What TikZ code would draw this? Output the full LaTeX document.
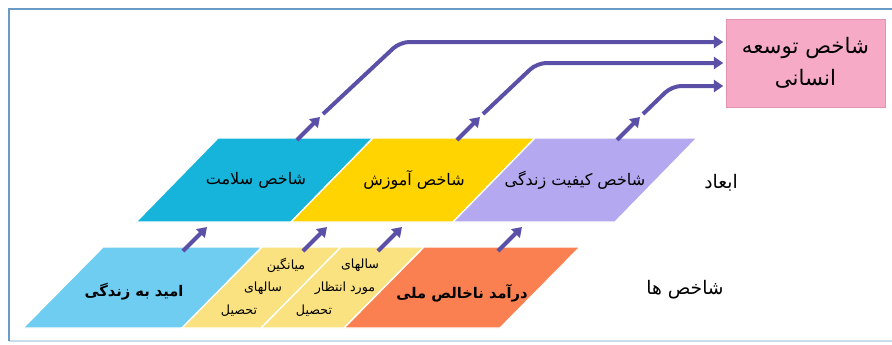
\documentclass[tikz,border=0pt]{standalone}
\usepackage{fontspec}
\newfontfamily\fa[Script=Arabic]{DejaVu Sans}
\TeXXeTstate=1
\usetikzlibrary{arrows.meta}
\definecolor{salamat}{RGB}{22,180,218}
\definecolor{amuzesh}{RGB}{255,212,0}
\definecolor{keyfiat}{RGB}{180,168,240}
\definecolor{omid}{RGB}{112,205,242}
\definecolor{zard}{RGB}{250,226,128}
\definecolor{daramad}{RGB}{250,128,82}
\definecolor{soorati}{RGB}{246,170,198}
\definecolor{sooratib}{RGB}{228,146,178}
\definecolor{arrc}{RGB}{90,80,168}
\definecolor{framec}{RGB}{106,155,198}
\definecolor{framelt}{RGB}{200,220,235}
\begin{document}
\begin{tikzpicture}[x=.75pt, y=-.75pt, >={Triangle[length=7pt,width=9pt]},
  arr/.style={->, line width=3pt, draw=arrc},
  txt/.style={font={\fa\fontsize{12}{14}\selectfont}, inner sep=0pt},
  btxt/.style={font={\fa\bfseries\fontsize{11}{13}\selectfont}, inner sep=0pt},
  stxt/.style={font={\fa\fontsize{9.5}{11}\selectfont}, inner sep=0pt},
  ltxt/.style={font={\fa\fontsize{14}{16}\selectfont}, inner sep=0pt}]
 \useasboundingbox (0,0) rectangle (892,344);
 % frame
 \draw[framelt, line width=1pt](9,341)--(892,341);
 \draw[framec, line width=1.5pt](892,9)--(9,9)--(9,341);
 % abad
 \foreach \l/\r/\c in {218/373/salamat, 373/535/amuzesh, 535/697/keyfiat}
 {
     \fill[\c, draw=white, line width=1pt](\l,138)--(\r,138)--(\r-82,222)--(\l-82,222)--cycle;
 }
 % shakhes ha
 \foreach \l/\r/\c in {103/262/omid, 262/341/zard, 341/424/zard, 424/580/daramad}
 {
     \fill[\c, draw=white, line width=1pt](\l,247)--(\r,247)--(\r-80,328)--(\l-80,328)--cycle;
 }
 \node[txt] (salamat) at (256,180) {\beginR شاخص سلامت\endR};
 \node[txt] (amuzesh) at (414,180) {\beginR شاخص آموزش\endR};
 \node[txt] (keyfiat) at (575,180) {\beginR شاخص کیفیت زندگی\endR};
 \node[ltxt] (abad) at (721,183) {\beginR ابعاد\endR};
 \node[btxt] (omid) at (134,292) {\beginR امید به زندگی\endR};
 \node[stxt] (miangin1) at (286,265) {\beginR میانگین\endR};
 \node[stxt] (miangin2) at (263,288) {\beginR سالهای\endR};
 \node[stxt] (miangin3) at (239,311) {\beginR تحصیل\endR};
 \node[stxt] (entezar1) at (360,265) {\beginR سالهای\endR};
 \node[stxt] (entezar2) at (345,288) {\beginR مورد انتظار\endR};
 \node[stxt] (entezar3) at (314,311) {\beginR تحصیل\endR};
 \node[btxt] (daramad) at (462,293) {\beginR درآمد ناخالص ملی\endR};
 \node[ltxt] (shakhesha) at (685,290) {\beginR شاخص ها\endR};
 \node[fill=soorati, draw=sooratib, minimum width=119pt, minimum height=66pt, align=center,
       font={\fa\fontsize{16}{24}\selectfont}] (hdi) at (805.5,63)
       {\beginR شاخص توسعه\endR\\\beginR انسانی\endR};
 % arrows between rows
 \foreach \x/\i in {183/1, 303/2, 378/3, 498/4}
 {
     \coordinate (pa\i) at (\x,251);
     \coordinate (ba\i) at (\x+24,227);
     \draw[arr](pa\i)--(ba\i);
 }
 \foreach \x/\i in {297/1, 457/2, 617/3}
 {
     \coordinate (s\i) at (\x,140);
     \coordinate (t\i) at (\x+23,117);
     \draw[arr](s\i)--(t\i);
 }
 % to the index box
 \coordinate (a1) at (323,114);
 \coordinate (b1) at (400,42);
 \coordinate (a2) at (483,114);
 \coordinate (b2) at (537,63);
 \coordinate (a3) at (643,114);
 \coordinate (b3) at (672,86);
 \foreach \i in {1,2,3}
 {
     \draw[arr, rounded corners=7pt, shorten >=2pt](a\i)--(b\i)--(b\i -| hdi.west);
 }
\end{tikzpicture}
\end{document}
